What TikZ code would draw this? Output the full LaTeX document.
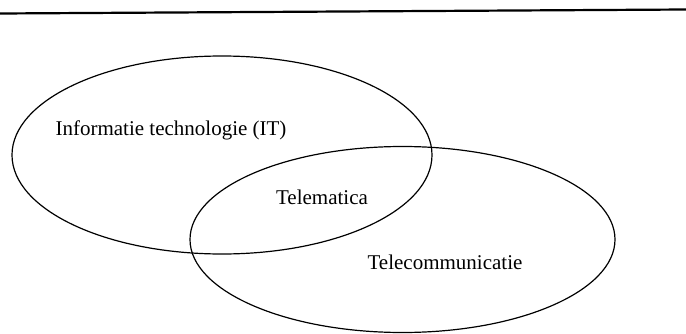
\documentclass[tikz,border=0pt]{standalone}
\usepackage{fontspec}
\setmainfont{Liberation Serif}
\usetikzlibrary{shapes.geometric}
\begin{document}
\begin{tikzpicture}[x=1pt,y=1pt,
  setbox/.style={draw=black, line width=1.2pt, ellipse, inner sep=0pt},
  labeltext/.style={font=\fontsize{21}{25}\selectfont, inner sep=0pt, anchor=center}]
\useasboundingbox (0,0) rectangle (686,333);
% rule across the top
\coordinate (ruleL) at (0,319.5);
\coordinate (ruleR) at (686,323.5);
\draw[line width=2.2pt] (ruleL) -- (ruleR);
% the two overlapping fields
\node[setbox, minimum width=420pt, minimum height=198pt] (it) at (222,178) {};
\node[setbox, minimum width=425pt, minimum height=186pt] (tc) at (402.5,93.5) {};
% labels
\node[labeltext] (itlabel) at (171,203) {Informatie technologie (IT)};
\node[labeltext] (tmlabel) at (322,136) {Telematica};
\node[labeltext] (tclabel) at (445,71) {Telecommunicatie};
\end{tikzpicture}
\end{document}
